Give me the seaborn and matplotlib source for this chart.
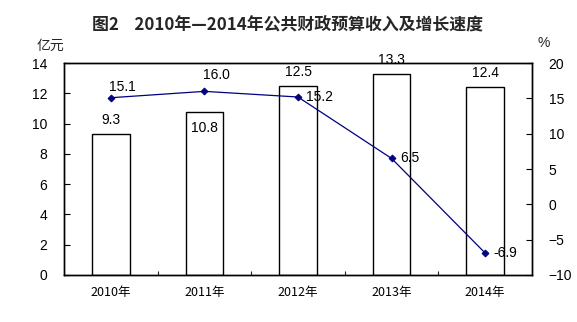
import matplotlib
matplotlib.use("Agg")
import matplotlib.pyplot as plt
import seaborn as sns
import pandas as pd

years = ["2010年", "2011年", "2012年", "2013年", "2014年"]
revenue = [9.3, 10.8, 12.5, 13.3, 12.4]
growth = [15.1, 16.0, 15.2, 6.5, -6.9]
left_ticks = [0, 2, 4, 6, 8, 10, 12, 14]
right_ticks = [-10, -5, 0, 5, 10, 15, 20]

sns.set_theme(style="white")
plt.rcParams["font.family"] = ["Liberation Sans", "Noto Sans CJK SC", "DejaVu Sans"]

df = pd.DataFrame({"year": years, "revenue": revenue, "growth": growth})

fig = plt.figure(figsize=(5.77, 3.22), dpi=100)
ax = fig.add_axes([0.111, 0.146, 0.811, 0.658])

sns.barplot(data=df, x="year", y="revenue", color="white", edgecolor="black",
            linewidth=1.0, width=0.4, ax=ax, saturation=1)
ax.set_ylim(0, 14)
ax.set_yticks(left_ticks)
ax.set_xlim(-0.5, 4.5)
ax.set_xlabel("")
ax.set_ylabel("")

# value labels above the bars; 2011 sits just inside its bar
bar_offsets = [10, -11.5, 10, 10, 10]
for i, (v, dy) in enumerate(zip(revenue, bar_offsets)):
    ax.annotate(f"{v:.1f}", (i, v), xytext=(0, dy), textcoords="offset points",
                ha="center", va="center", fontsize=10, color="black")

ax2 = ax.twinx()
sns.pointplot(data=df, x="year", y="growth", color="#000080", markers="D",
              markersize=3.5, linewidth=0.9, ax=ax2)
ax2.set_ylim(-10, 20)
ax2.set_yticks(right_ticks)
ax2.set_xlim(-0.5, 4.5)
ax2.set_ylabel("")
ax2.set_xlabel("")

line_offsets = [(-1.5, 7.5), (-1, 11.5), (6, 0), (6.5, 0), (6, 0)]
for i, (g, (dx, dy)) in enumerate(zip(growth, line_offsets)):
    ax2.annotate(f"{g:.1f}", (i, g), xytext=(dx, dy), textcoords="offset points",
                 ha="left", va="center", fontsize=10, color="black")

for a in (ax, ax2):
    for s in a.spines.values():
        s.set_color("black")
        s.set_linewidth(1.0)
        s.set_visible(True)

ax.tick_params(axis="y", direction="in", length=4, width=0.8, left=True, labelsize=10,
               colors="black", pad=12)
ax2.tick_params(axis="y", direction="in", length=4, width=0.8, right=True, labelsize=10,
                colors="black", pad=12)

# category boundaries as small inward ticks, labels centred beneath
ax.set_xticks([0.5, 1.5, 2.5, 3.5], minor=True)
ax.set_xticks(range(5))
ax.set_xticklabels(years, fontfamily=["Noto Sans CJK SC"], fontsize=9)
ax.tick_params(axis="x", which="major", length=0, pad=8, colors="black")
ax.tick_params(axis="x", which="minor", direction="in", length=3, width=0.8, bottom=True)
ax2.tick_params(axis="x", which="both", length=0)

fig.text(0.087, 0.857, "亿元", fontsize=10, fontfamily=["Noto Sans CJK SC"],
         ha="center", va="center")
fig.text(0.943, 0.866, "%", fontsize=10, ha="center", va="center")
fig.text(0.499, 0.925, "图2    2010年—2014年公共财政预算收入及增长速度", fontsize=12.2,
         fontweight="bold", ha="center", va="center",
         fontfamily=["Noto Sans CJK SC", "DejaVu Sans"])

fig.savefig("out.png", dpi=100)
